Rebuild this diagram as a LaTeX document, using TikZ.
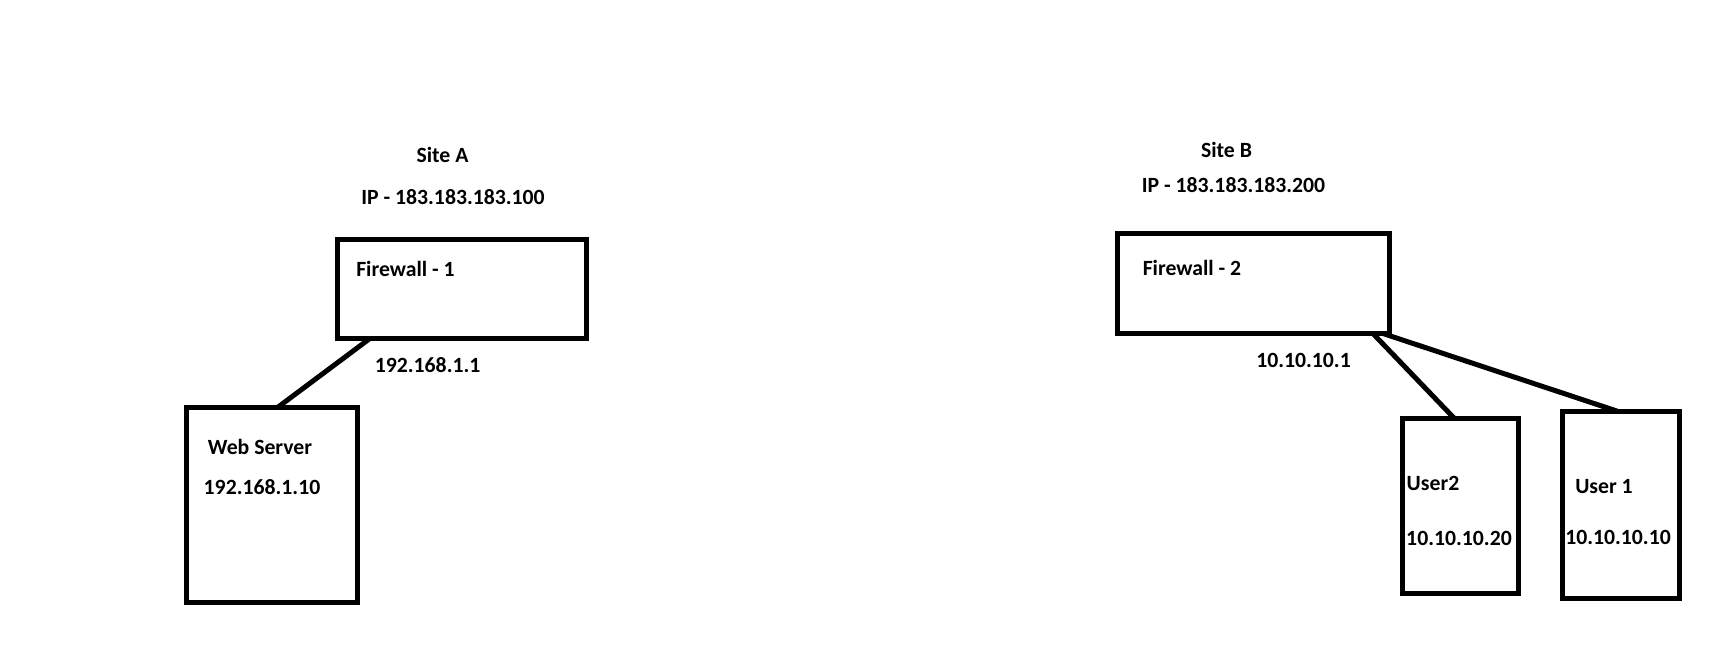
\documentclass[tikz,border=0pt]{standalone}
\usepackage{fontspec}
\setmainfont{Carlito}
\usetikzlibrary{calc}
\begin{document}
\begin{tikzpicture}[x=0.75pt,y=-0.75pt,
  box/.style={draw=black,line width=3.75pt,rectangle,inner sep=0pt,outer sep=0pt,fill=none},
  lbl/.style={anchor=base,inner sep=0pt,font=\fontsize{16.3pt}{19pt}\selectfont\bfseries},
  wire/.style={draw=black,line width=3.75pt}]
\useasboundingbox[fill=white] (0,0) rectangle (1713,648);
% Site A
\node[box,minimum width=186.75pt,minimum height=74.25pt] (fw1) at (462,289) {};
\node[box,minimum width=128.4pt,minimum height=146.4pt] (web) at (271.9,504.8) {};
\node[lbl] (siteA) at (442.5,163) {Site A};
\node[lbl] (ipA) at (453,205) {IP - 183.183.183.100};
\node[lbl] (fw1t) at (405.5,277) {Firewall - 1};
\node[lbl] (fw1ip) at (427.6,373) {192.168.1.1};
\node[lbl] (webt) at (260,455) {Web Server};
\node[lbl] (webip) at (262,494) {192.168.1.10};
\draw[wire] ($(fw1.south west)!0.13!(fw1.south east)$) -- ($(web.north west)!0.535!(web.north east)$);
% Site B
\node[box,minimum width=204.2pt,minimum height=75.2pt] (fw2) at (1253.4,283.4) {};
\node[box,minimum width=87.2pt,minimum height=131.6pt] (u2) at (1460.3,505.8) {};
\node[box,minimum width=88pt,minimum height=140.5pt] (u1) at (1620.8,504.9) {};
\node[lbl] (siteB) at (1226.5,158) {Site B};
\node[lbl] (ipB) at (1233.5,193) {IP - 183.183.183.200};
\node[lbl] (fw2t) at (1192,276) {Firewall - 2};
\node[lbl] (fw2ip) at (1303.5,368) {10.10.10.1};
\node[lbl] (u2t) at (1433,490) {User2};
\node[lbl] (u2ip) at (1459,545) {10.10.10.20};
\node[lbl] (u1t) at (1604,493) {User 1};
\node[lbl] (u1ip) at (1618,544) {10.10.10.10};
\draw[wire] ($(fw2.south west)!0.939!(fw2.south east)$) -- ($(u2.north west)!0.446!(u2.north east)$);
\draw[wire] ($(fw2.south west)!0.976!(fw2.south east)$) -- ($(u1.north west)!0.471!(u1.north east)$);
\end{tikzpicture}
\end{document}
